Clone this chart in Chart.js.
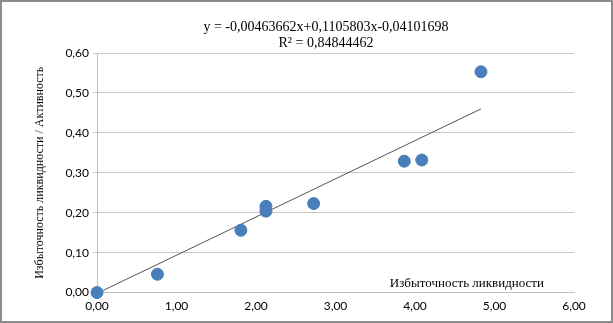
<!DOCTYPE html>
<html>
<head>
<meta charset="utf-8">
<script src="https://cdn.jsdelivr.net/npm/chart.js@4"></script>
<style>
  html, body { margin: 0; padding: 0; background: #fff; }
  #wrap { width: 613px; height: 323px; position: relative; }
</style>
</head>
<body>
<div id="wrap"><canvas id="liqChart" width="613" height="323"></canvas></div>
<script>
// values
const liquidityExcess = [0, 0.76, 1.81, 2.125, 2.125, 2.725, 3.865, 4.085, 4.83];
const activityRatio = [0, 0.046, 0.156, 0.216, 0.204, 0.223, 0.329, 0.332, 0.553];
const trendX = [0, 4.83];
const trendY = [-0.002, 0.46];
const eqLines = ['y = -0,00463662x+0,1105803x-0,04101698', 'R\u00b2 = 0,84844462'];
const xAxisName = 'Избыточность ликвидности';
const yAxisName = 'Избыточность ликвидности / Активность';

const fmt = v => v.toFixed(2).replace('.', ',');

const points = liquidityExcess.map((x, i) => ({ x: x, y: activityRatio[i] }));
const trend = trendX.map((x, i) => ({ x: x, y: trendY[i] }));

// frame, equation and inner axis caption
const extras = {
  id: 'extras',
  beforeDraw(chart) {
    const ctx = chart.ctx;
    ctx.save();
    ctx.fillStyle = '#fff';
    ctx.fillRect(0, 0, chart.width, chart.height);
    ctx.restore();
  },
  afterDraw(chart) {
    const ctx = chart.ctx;
    const area = chart.chartArea;
    ctx.save();
    ctx.strokeStyle = '#8c8c8c';
    ctx.lineWidth = 2;
    ctx.strokeRect(1, 1, chart.width - 2, chart.height - 2);
    ctx.fillStyle = '#000';
    ctx.font = '14px "Liberation Serif"';
    ctx.textAlign = 'center';
    ctx.textBaseline = 'middle';
    ctx.fillText(eqLines[0], 326, 27);
    ctx.fillText(eqLines[1], 326, 43);
    ctx.font = '13px "Liberation Serif"';
    ctx.textAlign = 'right';
    ctx.fillText(xAxisName, area.right - 30, area.bottom - 9);
    ctx.restore();
  }
};

new Chart(document.getElementById('liqChart'), {
  type: 'scatter',
  data: {
    datasets: [{
      label: 'data',
      data: points,
      backgroundColor: '#4a7ebb',
      borderColor: '#4a7ebb',
      pointRadius: 6,
      pointHoverRadius: 6,
      clip: false,
      order: 1
    }, {
      label: 'trend',
      type: 'line',
      data: trend,
      borderColor: '#555',
      borderWidth: 1,
      pointRadius: 0,
      fill: false,
      clip: false,
      order: 2
    }]
  },
  options: {
    responsive: false,
    animation: false,
    layout: { padding: { top: 53, right: 39, bottom: 8, left: 33 } },
    plugins: {
      legend: { display: false },
      tooltip: { enabled: false }
    },
    scales: {
      x: {
        type: 'linear',
        min: 0, max: 6,
        ticks: { stepSize: 1, callback: v => fmt(v), color: '#000', font: { family: 'Lato', size: 12 }, padding: 2 },
        grid: { display: false, drawOnChartArea: false, drawTicks: true, tickLength: 4, color: '#bfbfbf' },
        border: { color: '#bfbfbf' }
      },
      y: {
        min: 0, max: 0.6,
        ticks: { stepSize: 0.1, callback: v => fmt(v), color: '#000', font: { family: 'Lato', size: 12 }, padding: 4 },
        grid: { color: '#c8c8c8', tickLength: 4 },
        border: { color: '#bfbfbf' },
        title: { display: true, text: yAxisName, color: '#000', font: { family: 'Liberation Serif', size: 12 }, padding: { top: 0, bottom: 14 } }
      }
    }
  },
  plugins: [extras]
});
</script>
</body>
</html>
